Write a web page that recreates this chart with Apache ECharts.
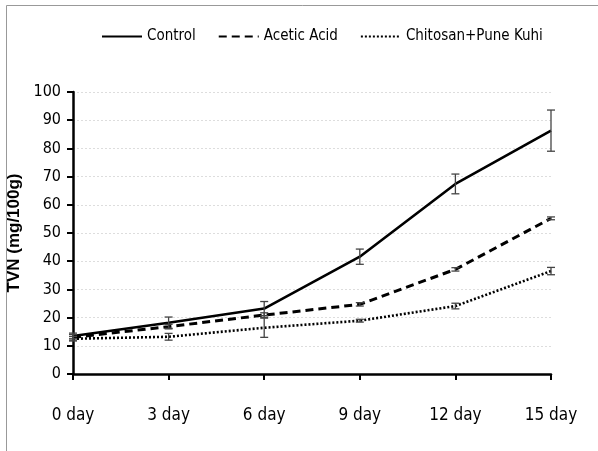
<!DOCTYPE html>
<html><head><meta charset="utf-8">
<script src="https://cdn.jsdelivr.net/npm/echarts@6/dist/echarts.min.js"></script>
<style>html,body{margin:0;padding:0;background:#fff}#c{width:598px;height:451px}</style>
</head><body><div id="c"></div>
<script>
var categories = ['0 day','3 day','6 day','9 day','12 day','15 day'];
var controlVals = [13.5, 18.2, 23.2, 41.6, 67.4, 86.3];
var controlErr  = [1.0, 2.0, 2.5, 2.7, 3.5, 7.3];
var aceticVals  = [13.0, 16.8, 20.9, 24.7, 37.1, 55.2];
var aceticErr   = [1.0, 0.8, 0.8, 0.6, 0.6, 0.5];
var chitoVals   = [12.5, 13.2, 16.4, 18.9, 24.1, 36.5];
var chitoErr    = [0.8, 1.2, 3.4, 0.5, 1.0, 1.3];
var yTicks = [0,10,20,30,40,50,60,70,80,90,100];

var font = '"Liberation Sans Narrow","DejaVu Sans Condensed","Liberation Sans",sans-serif';

function errData(vals, errs){
  return vals.map(function(v,i){ return [i, v-errs[i], v+errs[i]]; });
}
function errSeries(vals, errs, name){
  return {
    type:'custom', name: name+' err', silent:true, z:5,
    data: errData(vals, errs),
    renderItem: function(params, api){
      var x = api.value(0);
      var lo = api.coord([x, api.value(1)]);
      var hi = api.coord([x, api.value(2)]);
      var w = 4;
      var st = {stroke:'#444', lineWidth:1.3};
      return {type:'group', children:[
        {type:'line', shape:{x1:lo[0],y1:lo[1],x2:hi[0],y2:hi[1]}, style:st},
        {type:'line', shape:{x1:lo[0]-w,y1:lo[1],x2:lo[0]+w,y2:lo[1]}, style:st},
        {type:'line', shape:{x1:hi[0]-w,y1:hi[1],x2:hi[0]+w,y2:hi[1]}, style:st}
      ]};
    }
  };
}

var chart = echarts.init(document.getElementById('c'), null, {renderer:'canvas'});
chart.setOption({
  animation:false,
  backgroundColor:'#fff',
  textStyle:{fontFamily:font},
  graphic:[
    {type:'line', shape:{x1:6.5,y1:5.5,x2:598,y2:5.5}, style:{stroke:'#999', lineWidth:1}},
    {type:'line', shape:{x1:6.5,y1:5.5,x2:6.5,y2:451}, style:{stroke:'#999', lineWidth:1}}
  ],
  legend:{
    top:24, left:96, itemGap:22, itemWidth:40, itemHeight:14,
    itemStyle:{opacity:0},
    textStyle:{fontFamily:font, fontSize:15, color:'#000'},
    data:['Control','Acetic Acid','Chitosan+Pune Kuhi']
  },
  grid:{left:73, right:47, top:92, bottom:77, containLabel:false, outerBoundsMode:'none'},
  xAxis:{
    type:'category', data:categories, boundaryGap:false,
    axisLine:{lineStyle:{color:'#000', width:2.5}},
    axisTick:{show:true, alignWithLabel:true, length:6, lineStyle:{color:'#000', width:2}},
    axisLabel:{fontFamily:font, fontSize:17, color:'#000', margin:33}
  },
  yAxis:{
    type:'value', min:0, max:100, interval:10,
    name:'TVN (mg/100g)', nameLocation:'middle', nameGap:35,
    nameTextStyle:{fontFamily:'"Liberation Sans","DejaVu Sans",sans-serif', fontSize:17, fontWeight:'bold', color:'#000'},
    axisLine:{show:true, lineStyle:{color:'#000', width:2.5}},
    axisTick:{show:true, length:6, lineStyle:{color:'#000', width:2}},
    axisLabel:{fontFamily:font, fontSize:16, color:'#000', margin:12,
      formatter:function(v){ return yTicks.indexOf(v)>=0 ? String(v) : ''; }},
    splitLine:{show:true, lineStyle:{color:'#ddd', type:[2,2], width:1}}
  },
  series:[
    {name:'Control', type:'line', data:controlVals, symbol:'none', z:4,
     lineStyle:{color:'#000', width:2.6, type:'solid'}, itemStyle:{color:'#000'}},
    {name:'Acetic Acid', type:'line', data:aceticVals, symbol:'none', z:4,
     lineStyle:{color:'#000', width:3, type:[8,5]}, itemStyle:{color:'#000'}},
    {name:'Chitosan+Pune Kuhi', type:'line', data:chitoVals, symbol:'none', z:4,
     lineStyle:{color:'#000', width:2.6, type:[2,2]}, itemStyle:{color:'#000'}},
    errSeries(controlVals, controlErr, 'Control'),
    errSeries(aceticVals, aceticErr, 'Acetic Acid'),
    errSeries(chitoVals, chitoErr, 'Chitosan+Pune Kuhi')
  ]
});
</script></body></html>
